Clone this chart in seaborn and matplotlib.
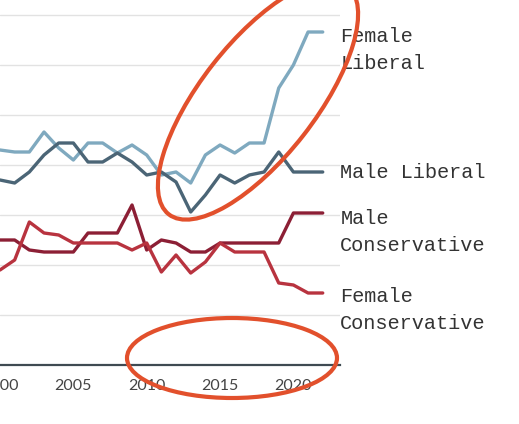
import matplotlib
matplotlib.use("Agg")
import matplotlib.pyplot as plt
import pandas as pd
import seaborn as sns
from matplotlib.patches import Ellipse
from matplotlib.transforms import IdentityTransform

years = list(range(2000, 2023))
female_liberal = [43, 42.6, 42.6, 46.6, 43.4, 41, 44.4, 44.4, 42.4, 44, 42, 38, 38.6,
                  36.4, 42, 44, 42.4, 44.4, 44.4, 55.4, 60, 66.6, 66.6]
male_liberal = [37, 36.4, 38.6, 42, 44.4, 44.4, 40.6, 40.6, 42.4, 40.6, 38, 38.6, 36.6,
                30.6, 34, 38, 36.4, 38, 38.6, 42.6, 38.6, 38.6, 38.6]
male_conservative = [25, 25, 23, 22.6, 22.6, 22.6, 26.4, 26.4, 26.4, 32, 23, 25, 24.4,
                     22.6, 22.6, 24.4, 24.4, 24.4, 24.4, 24.4, 30.4, 30.4, 30.4]
female_conservative = [19, 21, 28.6, 26.4, 26, 24.4, 24.4, 24.4, 24.4, 23, 24.4, 18.6, 22,
                       18.4, 20.6, 24.4, 22.6, 22.6, 22.6, 16.4, 16, 14.4, 14.4]

series = {
    "Female\nLiberal": female_liberal,
    "Male Liberal": male_liberal,
    "Male\nConservative": male_conservative,
    "Female\nConservative": female_conservative,
}
colors = {
    "Female\nLiberal": "#7fa9bf",
    "Male Liberal": "#4b6576",
    "Male\nConservative": "#8c1f35",
    "Female\nConservative": "#b8333f",
}
label_y = {
    "Female\nLiberal": 63,
    "Male Liberal": 38.4,
    "Male\nConservative": 26.6,
    "Female\nConservative": 11,
}

df = pd.DataFrame(
    [(y, name, v) for name, vals in series.items() for y, v in zip(years, vals)],
    columns=["year", "group", "value"],
)

sns.set_style("white")
fig = plt.figure(figsize=(5.19, 4.24), dpi=100)
ax = fig.add_axes([0, 59 / 424, 340 / 519, 365 / 424])

sns.lineplot(data=df, x="year", y="value", hue="group", palette=colors,
             linewidth=2.4, legend=False, ax=ax)

ax.set_xlim(2000.66, 2000.66 + 340 / 15.1)
ax.set_ylim(0, 73)
ax.set_yticks(range(10, 80, 10))
ax.yaxis.grid(True, color="#e2e2e2", linewidth=1)
ax.set_yticklabels([])
ax.tick_params(axis="y", length=0)
ax.set_xticks([2000, 2005, 2010, 2015, 2020])
ax.set_xticklabels(["2000", "2005", "2010", "2015", "2020"],
                   fontsize=11.5, color="#444444", family="Lato")
ax.tick_params(axis="x", length=0, pad=10)
ax.set_xlabel("")
ax.set_ylabel("")
for s in ["top", "right", "left"]:
    ax.spines[s].set_visible(False)
ax.spines["bottom"].set_color("#3f4a52")
ax.spines["bottom"].set_linewidth(1.6)

for name, yv in label_y.items():
    ax.text(2023.2, yv, name, fontsize=14.6, family="Liberation Mono", color="#333333",
            va="center", ha="left", clip_on=False, linespacing=1.5)

# hand-drawn red circles
fig.add_artist(Ellipse((258, 424 - 100), 290, 115, angle=52, fill=False,
                       edgecolor="#e2502c", linewidth=3, transform=IdentityTransform()))
fig.add_artist(Ellipse((232, 424 - 358), 210, 80, angle=0, fill=False,
                       edgecolor="#e2502c", linewidth=3, transform=IdentityTransform()))

fig.savefig("out.png", dpi=100)
